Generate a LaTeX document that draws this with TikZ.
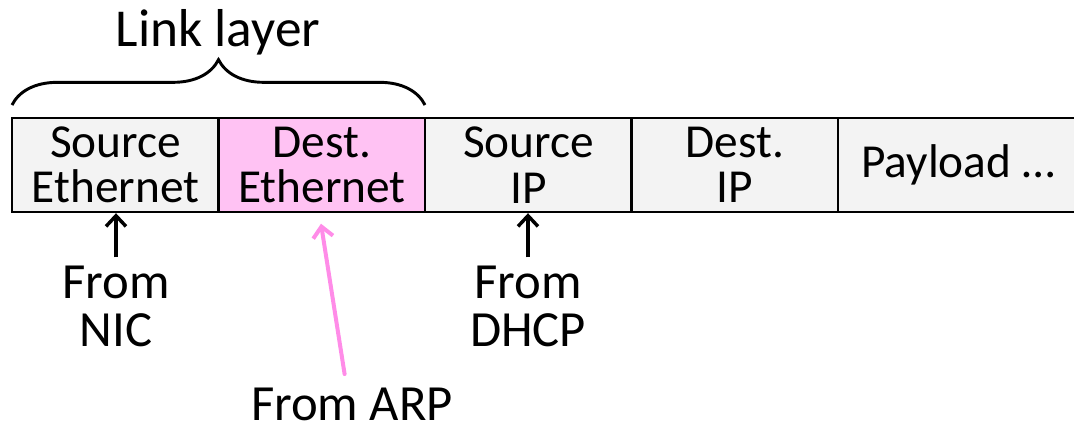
\documentclass[tikz,border=0pt]{standalone}
\usepackage{fontspec}
\setmainfont{Carlito}
\usetikzlibrary{arrows.meta,positioning,decorations.pathreplacing}

\definecolor{fieldgray}{HTML}{F3F3F3}
\definecolor{arppink}{HTML}{FFC2F3}
\definecolor{arrpink}{HTML}{FF8CE8}

\begin{document}
\begin{tikzpicture}[
    x=0.75pt, y=-0.75pt,
    field/.style={draw, line width=1.8pt, minimum width=155.25pt, minimum height=70.5pt, align=center, font=\fontsize{35.5}{34}\selectfont, fill=fieldgray, inner sep=0pt},
    lbl/.style={align=center, font=\fontsize{38}{36}\selectfont, inner sep=0pt},
    arr/.style={-{Straight Barb[length=8pt, width=15pt, line width=2.6pt]}, line width=2.6pt},
    parr/.style={-{Straight Barb[length=8pt, width=15pt, line width=3pt]}, line width=3pt, draw=arrpink, line cap=round}
]
\useasboundingbox (0,0) rectangle (1074,432);

\node[field] (srceth) at (115.5,165) {Source\\Ethernet};
\node[field, fill=arppink] (dsteth) at (322,165) {Dest.\\Ethernet};
\node[field] (srcip) at (528.5,165) {Source\\IP};
\node[field] (dstip) at (735,165) {Dest.\\IP};
\node[field, minimum width=180pt] (payload) at (958,165) {Payload \dots};

\draw[line width=2.2pt, decorate, decoration={brace, amplitude=34pt, aspect=0.5}] (12,105) -- (425,105);
\node[lbl, font=\fontsize{40}{36}\selectfont] (link) at (218,32) {Link layer};

\node[lbl] (nic) at (116,306) {From\\NIC};
\node[lbl] (dhcp) at (528,306) {From\\DHCP};
\node[lbl, anchor=base] (arp) at (352,420) {From ARP};

\draw[arr, shorten <=6pt] (nic) -- (srceth.south -| nic);
\draw[arr, shorten <=6pt] (dhcp) -- (srcip.south -| dhcp);
\draw[parr, shorten <=10pt, shorten >=8pt] ([xshift=-4pt]arp.north) -- ([xshift=-2pt]dsteth.south);
\end{tikzpicture}
\end{document}
